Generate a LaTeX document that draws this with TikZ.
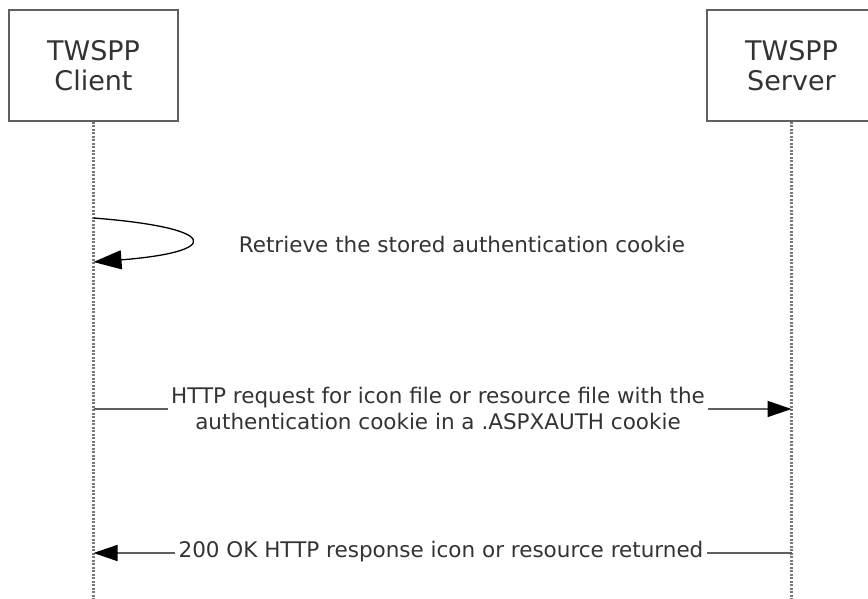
\documentclass[tikz,border=0pt]{standalone}
\usepackage{fontspec}
\setmainfont{DejaVu Sans}
\usetikzlibrary{arrows.meta}
\definecolor{linegray}{HTML}{606060}
\definecolor{textgray}{HTML}{333333}
\newcommand{\msgfont}{\fontsize{21.5}{26}\selectfont}
\newcommand{\hdrfont}{\fontsize{27}{32}\selectfont}

\begin{document}
\begin{tikzpicture}[x=1pt,y=-1pt,
   actor/.style={draw=linegray,line width=2pt,minimum width=169pt,minimum height=111pt,
                 align=center,text=textgray,font=\hdrfont},
   lifeline/.style={draw=linegray!85,dash pattern=on 2pt off 1.5pt,line width=2.4pt},
   msgline/.style={draw=linegray,line width=1.6pt},
   tip/.style={-{Triangle[length=24pt,width=16pt,color=black]}},
   msglabel/.style={text=textgray,font=\msgfont,align=center,inner sep=3pt}]
   \useasboundingbox (0,0) rectangle (868,599);
   % participants
   \node[actor] (client) at (93.5,65.5) {TWSPP\\[-2pt]Client};
   \node[actor] (server) at (791.5,65.5) {TWSPP\\[-2pt]Server};
   \coordinate (cbot) at (93.5,599);
   \coordinate (sbot) at (791.5,599);
   \draw[lifeline] (client.south) -- (cbot);
   \draw[lifeline] (server.south) -- (sbot);
   % self call
   \coordinate (loopa) at (93.5,218);
   \coordinate (loopb) at (93.5,262);
   \draw[msgline,draw=black,line width=1.3pt,-{Triangle[length=28pt,width=19pt,color=black]}]
      (loopa) .. controls (222,228) and (222,252) .. (loopb);
   \node[msglabel] (retrieve) at (462,244) {Retrieve the stored authentication cookie};
   % request
   \node[msglabel] (req) at (438,408) {HTTP request for icon file or resource file with the\\authentication cookie in a .ASPXAUTH cookie};
   \coordinate (reqa) at (93.5,409);
   \coordinate (reqb) at (791.5,409);
   \draw[msgline] (reqa) -- (reqa -| req.west);
   \draw[msgline,tip] (reqb -| req.east) -- (reqb);
   % response
   \node[msglabel] (resp) at (441,552) {200 OK HTTP response icon or resource returned};
   \coordinate (respa) at (791.5,553);
   \coordinate (respb) at (93.5,553);
   \draw[msgline] (respa) -- (respa -| resp.east);
   \draw[msgline,tip] (respb -| resp.west) -- (respb);
\end{tikzpicture}
\end{document}
